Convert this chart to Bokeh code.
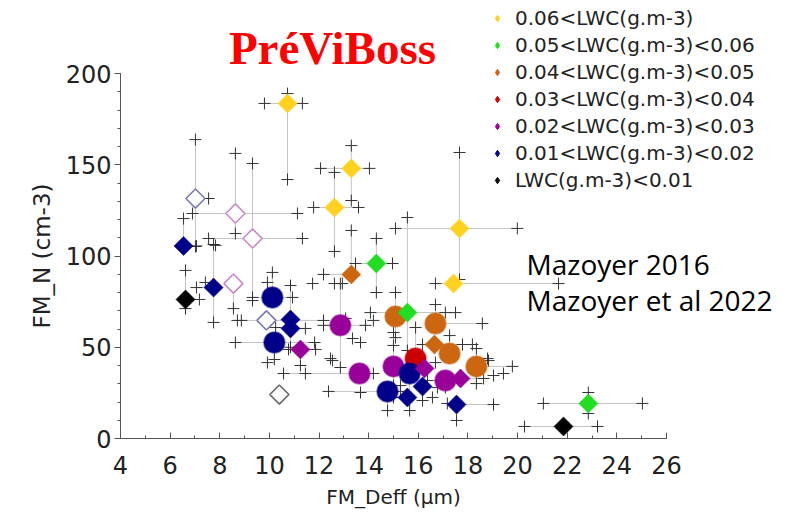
import numpy as np
from bokeh.plotting import figure
from bokeh.models import Range1d, Legend, LegendItem, Label, FixedTicker
from bokeh.embed import file_html
from bokeh.resources import INLINE

nan = float("nan")

# LWC classes (legend) and their colours
classes = ["0.06<LWC(g.m-3)", "0.05<LWC(g.m-3)<0.06", "0.04<LWC(g.m-3)<0.05",
           "0.03<LWC(g.m-3)<0.04", "0.02<LWC(g.m-3)<0.03", "0.01<LWC(g.m-3)<0.02",
           "LWC(g.m-3)<0.01"]
class_colors = ["#FFD21F", "#22DD22", "#CC6611", "#CC0000", "#990099", "#000088", "#000000"]
open_colors = {4: "#CC88CC", 5: "#7B7BB0", 6: "#666666"}

# Points: FM_Deff (um), FM_N (cm-3), class index, kind (D=diamond, C=circle, O=open diamond)
pt_x = [10.73, 13.30, 12.62, 17.66, 17.42,
        14.31, 15.56, 22.85,
        13.30, 15.08, 16.69, 16.65, 17.26, 18.34,
        15.89,
        11.25, 12.86, 13.63, 15.00, 16.25, 17.09, 17.70,
        6.54, 7.75, 10.85, 10.85, 10.12, 10.20, 14.76, 15.65, 16.17, 15.56, 17.54,
        21.85, 6.62,
        7.02, 8.63, 9.32, 8.55, 9.88, 10.40]
pt_y = [183.6, 148.0, 126.6, 115.1, 84.9,
        95.9, 69.0, 19.2,
        89.9, 66.8, 63.0, 51.5, 46.6, 39.5,
        43.8,
        48.8, 62.0, 35.6, 39.5, 38.4, 31.8, 32.9,
        105.5, 82.7, 65.2, 60.3, 77.3, 52.6, 25.8, 35.6, 28.5, 22.5, 18.6,
        6.6, 76.2,
        131.5, 123.3, 109.6, 84.9, 64.7, 24.1]
pt_cls = [0, 0, 0, 0, 0,
          1, 1, 1,
          2, 2, 2, 2, 2, 2,
          3,
          4, 4, 4, 4, 4, 4, 4,
          5, 5, 5, 5, 5, 5, 5, 5, 5, 5, 5,
          6, 6,
          5, 4, 4, 4, 5, 6]
pt_kind = ["D", "D", "D", "D", "D",
           "D", "D", "D",
           "D", "C", "C", "D", "C", "C",
           "C",
           "D", "C", "C", "C", "D", "C", "D",
           "D", "D", "D", "D", "C", "C", "C", "C", "D", "D", "D",
           "D", "D",
           "O", "O", "O", "O", "O", "O"]
# error bar ends (nan = not drawn)
pt_xlo = [9.80, 12.06, 11.78, 15.08, 16.69,
          13.47, 14.07, 21.04,
          12.18, nan, nan, 16.17, nan, nan,
          nan,
          10.77, 12.18, 10.57, nan, nan, 16.37, nan,
          nan, 7.06, nan, nan, 9.32, 8.63, 12.38, nan, nan, 15.00, nan,
          20.28, nan,
          nan, 6.90, 7.55, nan, 8.71, nan]
pt_xhi = [11.33, 14.03, 13.59, 19.99, 21.65,
          14.96, 17.50, 25.03,
          nan, nan, 18.58, 17.78, nan, 19.79,
          nan,
          11.86, 13.87, 14.19, nan, nan, nan, 18.63,
          7.06, nan, nan, 11.45, 10.93, 11.82, 15.28, nan, nan, nan, 19.03,
          23.22, 7.18,
          7.55, 11.13, 11.33, nan, 12.18, nan]
pt_ylo = [141.9, 130.4, 102.5, 87.1, nan,
          80.0, 48.2, 13.7,
          nan, 55.3, nan, nan, nan, 30.1,
          nan,
          40.0, 38.9, nan, 29.0, nan, nan, nan,
          nan, 63.6, nan, 50.0, nan, 43.3, 15.3, 15.3, 20.8, nan, 9.9,
          nan, 71.2,
          105.2, 112.3, 75.6, 71.2, nan, nan]
pt_yhi = [189.0, 160.5, 145.8, 156.7, nan,
          109.6, 121.1, 25.2,
          114.0, 80.0, 73.4, nan, 56.4, 49.3,
          60.8,
          nan, 84.9, nan, 51.0, nan, nan, nan,
          120.5, 106.3, 83.8, nan, 91.0, nan, nan, nan, nan, nan, nan,
          nan, 92.1,
          163.8, 156.2, 150.7, nan, nan, nan]

# other error-bar ends (points without a drawn symbol)
ext_x = [12.62, 11.74, 12.94, 9.92, 7.42, 7.83, 8.87, 10.25, 9.92, 11.45, 12.54, 17.09,
         14.19, 13.07, 13.35, 13.67, 18.18, 16.69, 18.79, 19.43, 19.03, 12.46, 15.28,
         16.77, 17.09, 17.17, 15.00, 13.67, 18.83, 16.57]
ext_y = [84.9, 84.9, 84.9, 85.5, 85.5, 105.8, 64.7, 60.8, 41.6, 35.6, 42.7, 69.0,
         64.7, 65.8, 54.8, 52.6, 51.5, 41.6, 43.8, 35.6, 34.5, 43.8, 29.0,
         27.9, 27.9, 19.2, 58.1, 25.2, 42.7, 22.5]

x_ticks = list(range(4, 27, 2))
y_ticks = [0, 50, 100, 150, 200]

W, H = 789, 514
p = figure(width=W, height=H, min_border=0, title=None,
           x_range=Range1d(-0.835, 30.956), y_range=Range1d(-41.64, 240.0),
           output_backend="svg", toolbar_location=None,
           background_fill_color="white", border_fill_color="white")
p.outline_line_color = None
p.grid.visible = False

# error bars
sx0, sy0, sx1, sy1 = [], [], [], []
cx, cy = [], []
for i in range(len(pt_x)):
    x, y = pt_x[i], pt_y[i]
    for lo, hi, horiz in ((pt_xlo[i], pt_xhi[i], True), (pt_ylo[i], pt_yhi[i], False)):
        for e in (lo, hi):
            if not np.isnan(e):
                if horiz:
                    sx0.append(x); sy0.append(y); sx1.append(e); sy1.append(y)
                    cx.append(e); cy.append(y)
                else:
                    sx0.append(x); sy0.append(y); sx1.append(x); sy1.append(e)
                    cx.append(x); cy.append(e)
p.segment(x0=sx0, y0=sy0, x1=sx1, y1=sy1, line_color="#C4C4C4", line_width=1)
p.scatter(x=cx + ext_x, y=cy + ext_y, marker="cross", size=12, line_color="#333333",
          line_width=1)

# open diamonds
oi = [i for i, k in enumerate(pt_kind) if k == "O"]
p.scatter(x=[pt_x[i] for i in oi], y=[pt_y[i] for i in oi], marker="square",
          angle=np.pi / 4, size=13.5, fill_color="white",
          line_color=[open_colors[pt_cls[i]] for i in oi], line_width=1.6)
# filled circles
ci = [i for i, k in enumerate(pt_kind) if k == "C"]
p.scatter(x=[pt_x[i] for i in ci], y=[pt_y[i] for i in ci], marker="circle", size=21,
          fill_color=[class_colors[pt_cls[i]] for i in ci],
          line_color=[class_colors[pt_cls[i]] for i in ci], line_alpha=0.5, line_width=1.5)
# filled diamonds
di = [i for i, k in enumerate(pt_kind) if k == "D"]
p.scatter(x=[pt_x[i] for i in di], y=[pt_y[i] for i in di], marker="square",
          angle=np.pi / 4, size=13.5,
          fill_color=[class_colors[pt_cls[i]] for i in di],
          line_color=[class_colors[pt_cls[i]] for i in di], line_alpha=0.5, line_width=1)

# axes, drawn at x=4 and y=0
p.xaxis.fixed_location = 0
p.yaxis.fixed_location = 4
p.xaxis.bounds = (4, 26)
p.yaxis.bounds = (0, 200)
p.xaxis.ticker = FixedTicker(ticks=x_ticks, minor_ticks=list(range(4, 27)))
p.yaxis.ticker = FixedTicker(ticks=y_ticks, minor_ticks=list(range(0, 201, 10)))
for ax in (p.xaxis, p.yaxis):
    ax.axis_line_color = "#555555"
    ax.major_tick_line_color = "#555555"
    ax.minor_tick_line_color = "#555555"
    ax.major_label_text_color = "#222222"
    ax.axis_label_text_color = "#222222"
    ax.axis_label_text_font = "DejaVu Sans"
    ax.axis_label_text_font_style = "normal"
p.xaxis.major_tick_in = 6
p.xaxis.major_tick_out = 0
p.xaxis.minor_tick_in = 3
p.xaxis.minor_tick_out = 0
p.xaxis.major_label_standoff = 17
p.xaxis.major_label_text_font = "DejaVu Sans"
p.xaxis.major_label_text_font_size = "24px"
p.xaxis.axis_label = "FM_Deff (µm)"
p.xaxis.axis_label_text_font_size = "20px"
p.xaxis.axis_label_standoff = 8
p.yaxis.major_tick_in = 0
p.yaxis.major_tick_out = 6
p.yaxis.minor_tick_in = 0
p.yaxis.minor_tick_out = 3
p.yaxis.major_label_standoff = 3
p.yaxis.major_label_text_font = "DejaVu Sans"
p.yaxis.major_label_text_font_size = "24px"
p.yaxis.axis_label = "FM_N (cm-3)"
p.yaxis.axis_label_text_font_size = "23px"
p.yaxis.axis_label_standoff = 8

# legend (symbol-only renderers, no visible points)
items = []
for c, col in zip(classes, class_colors):
    r = p.scatter(x=[nan], y=[nan], marker="diamond", size=10,
                  fill_color=col, line_color=col)
    items.append(LegendItem(label=c, renderers=[r]))
legend = Legend(items=items, location=(489, H - 192), padding=0, margin=0, spacing=3,
                glyph_width=16, glyph_height=16, label_height=20, label_standoff=10,
                border_line_color=None, background_fill_alpha=0,
                label_text_font="DejaVu Sans", label_text_font_size="20px",
                label_text_color="#222222")
p.add_layout(legend)

p.add_layout(Label(x=12.54, y=213.7, text="PréViBoss", text_align="center",
                   text_baseline="alphabetic", text_font="Liberation Serif",
                   text_font_style="bold", text_font_size="47px", text_color="#FF0000"))
p.add_layout(Label(x=20.36, y=95.4, text="Mazoyer 2016", text_align="left",
                   text_baseline="alphabetic", text_font="Open Sans",
                   text_font_size="28px", text_color="#000000"))
p.add_layout(Label(x=20.36, y=76.1, text="Mazoyer et al 2022", text_align="left",
                   text_baseline="alphabetic", text_font="Open Sans",
                   text_font_size="28px", text_color="#000000"))

open("out.html", "w").write(file_html(p, INLINE))
